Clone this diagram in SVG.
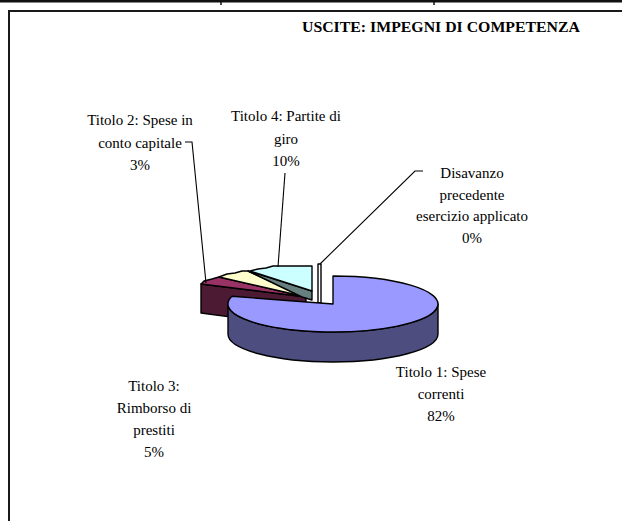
<svg xmlns="http://www.w3.org/2000/svg" width="622" height="521" viewBox="0 0 622 521">
<style>
  .lbl { font-family: "Liberation Serif", "Times New Roman", serif; font-size: 15px; fill: #000; text-anchor: middle; }
  .title { font-family: "Liberation Serif", "Times New Roman", serif; font-size: 15.5px; font-weight: bold; fill: #000; }
  .edge { stroke: #000; stroke-width: 1.4; stroke-linejoin: round; }
  .lead { fill: none; stroke: #000; stroke-width: 1.1; }
  .frame { fill: none; stroke: #1a1a1a; stroke-width: 2; }
</style>
<rect x="0" y="0" width="622" height="521" fill="#fff"/>
<g id="frame">
  <rect x="0" y="0" width="622" height="2.5" fill="#111"/>
  <line x1="221" y1="0" x2="221" y2="5" stroke="#111" stroke-width="1.5"/>
  <line x1="434" y1="0" x2="434" y2="5" stroke="#111" stroke-width="1.5"/>
  <path class="frame" d="M9,521 L9,11 L623,11"/>
</g>
<g id="title">
  <text class="title" x="302" y="32" textLength="278" lengthAdjust="spacingAndGlyphs">USCITE: IMPEGNI DI COMPETENZA</text>
</g>
<g id="slice-titolo2">
  <path class="edge" fill="#4D1A33" d="M201,284 L306,297 L306,327 L201,313 Z"/>
  <path class="edge" fill="#993366" d="M201,284 L204,281 L212,279 L219,277 L306,297 Z"/>
</g>
<g id="slice-titolo3">
  <path class="edge" fill="#FFFFCC" d="M219,277 L227,274 L235,273 L242,271 L248,271 L302,296 Z"/>
</g>
<g id="slice-titolo4">
  <path class="edge" fill="#668080" d="M248,271 L312,291 L312,300 L302,297 Z"/>
  <path class="edge" fill="#CCFFFF" d="M250,271 L258,269 L266,268 L273,266 L278,266 L312,266 L312,291 Z"/>
</g>
<g id="slice-disavanzo">
  <rect class="edge" x="318" y="264" width="3" height="39" fill="#fff"/>
</g>
<g id="slice-titolo1">
  <path class="edge" fill="#4D4D80" d="M228,304 A105,28 0 0,0 438,304 L438,334 A105,28 0 0,1 228,334 Z"/>
  <path class="edge" fill="#9999FF" d="M333,304 L333,276 A105,28 0 1,1 232,296.3 Z"/>
</g>
<g id="connectors">
  <polyline class="lead" points="185,142 192,142 206,283"/>
  <polyline class="lead" points="285,173 278,267"/>
  <polyline class="lead" points="423,171 415,171 320,264"/>
</g>
<g id="label-titolo2">
  <text class="lbl" x="140" y="125">Titolo 2: Spese in</text>
  <text class="lbl" x="140" y="148">conto capitale</text>
  <text class="lbl" x="140" y="170">3%</text>
</g>
<g id="label-titolo4">
  <text class="lbl" x="286" y="121">Titolo 4: Partite di</text>
  <text class="lbl" x="286" y="144">giro</text>
  <text class="lbl" x="286" y="166">10%</text>
</g>
<g id="label-disavanzo">
  <text class="lbl" x="472" y="178">Disavanzo</text>
  <text class="lbl" x="472" y="200">precedente</text>
  <text class="lbl" x="472" y="221">esercizio applicato</text>
  <text class="lbl" x="472" y="243">0%</text>
</g>
<g id="label-titolo3">
  <text class="lbl" x="154" y="391">Titolo 3:</text>
  <text class="lbl" x="154" y="413">Rimborso di</text>
  <text class="lbl" x="154" y="435">prestiti</text>
  <text class="lbl" x="154" y="457">5%</text>
</g>
<g id="label-titolo1">
  <text class="lbl" x="441" y="377">Titolo 1: Spese</text>
  <text class="lbl" x="441" y="399">correnti</text>
  <text class="lbl" x="441" y="421">82%</text>
</g>
</svg>
